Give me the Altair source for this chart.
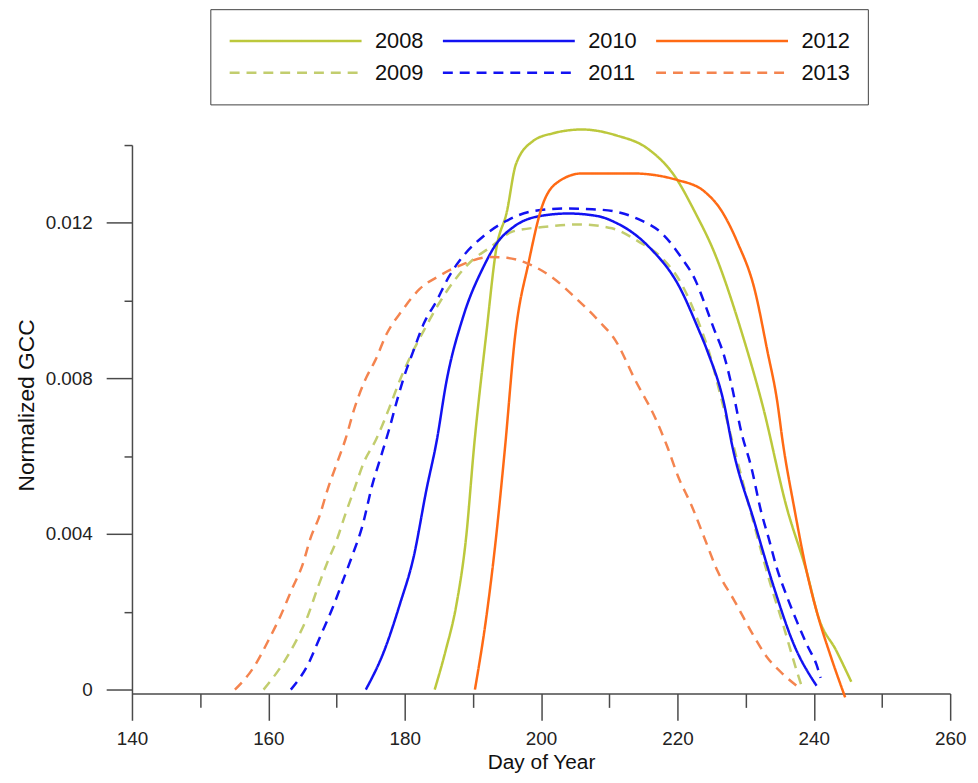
import altair as alt
import pandas as pd

# ---- data (Day of Year, Normalized GCC) ----
d2008 = [184.4, 186.0, 187.6, 189.0, 190.2, 192.0, 193.4, 195.0, 196.3, 198.8, 201.7, 206.0, 211.0,
         215.7, 219.6, 222.5, 225.5, 229.4, 232.5, 236.0, 239.0, 240.7, 243.3, 245.5]
v2008 = [0.0, 0.0010, 0.0022, 0.0039, 0.0063, 0.0092, 0.0113, 0.0123, 0.0135, 0.0141, 0.0143, 0.0144, 0.01425,
         0.0139, 0.0132, 0.0123, 0.0112, 0.0092, 0.0073, 0.0047, 0.0030, 0.00185, 0.0010, 0.0002]

d2009 = [159.3, 162.4, 164.3, 165.8, 167.2, 168.7, 170.1, 171.3, 172.6, 174.0, 175.8, 177.8, 179.3, 180.8,
         182.8, 185.0, 187.6, 190.1, 192.4, 195.9, 200.7, 205.5, 210.4, 214.2, 217.7, 220.6, 223.0, 224.6,
         226.7, 231.0, 234.0, 235.2, 237.5, 238.2]
v2009 = [0.0, 0.00074, 0.00133, 0.0019, 0.0026, 0.00329, 0.00388, 0.00451, 0.00515, 0.00584, 0.00643, 0.00727,
         0.00796, 0.00855, 0.00923, 0.00992, 0.01059, 0.01107, 0.01135, 0.01178, 0.0119, 0.01196, 0.01186,
         0.01153, 0.0111, 0.01043, 0.00949, 0.0087, 0.0073, 0.0044, 0.0025, 0.00184, 0.00048, 0.0001]

d2010 = [174.3, 177.0, 179.3, 181.3, 183.2, 184.7, 186.1, 188.6, 191.5, 193.4, 196.0, 199.7, 204.0, 208.4,
         211.0, 213.0, 216.0, 220.3, 223.0, 224.4, 226.9, 228.0, 231.3, 234.2, 237.1, 240.4]
v2010 = [0.0, 0.0010, 0.0022, 0.0034, 0.00515, 0.0064, 0.0079, 0.0096, 0.01085, 0.01145, 0.0119, 0.01217,
         0.01224, 0.01217, 0.0120, 0.0118, 0.01135, 0.01035, 0.0093, 0.0087, 0.0073, 0.0063, 0.0043, 0.0026,
         0.00115, 0.0001]

d2011 = [163.3, 165.8, 167.7, 169.4, 170.9, 172.3, 173.8, 175.2, 176.7, 177.7, 178.9, 179.9, 181.3, 182.8,
         184.7, 186.4, 188.6, 191.5, 194.8, 198.8, 203.6, 207.5, 210.6, 214.2, 217.9, 220.6, 222.7, 224.0,
         225.3, 226.9, 228.0, 229.4, 230.8, 232.3, 233.4, 234.6, 236.0, 237.5, 239.0, 240.4, 241.0]
v2011 = [0.0, 0.00064, 0.0014, 0.00209, 0.00278, 0.00344, 0.00421, 0.00523, 0.0061, 0.00668, 0.00745, 0.00804,
         0.00872, 0.00941, 0.0100, 0.01059, 0.01115, 0.01165, 0.01204, 0.0123, 0.01237, 0.01235, 0.0123,
         0.0121, 0.0117, 0.0111, 0.0105, 0.00992, 0.0093, 0.00855, 0.00778, 0.0066, 0.00574, 0.00456,
         0.00388, 0.00311, 0.00242, 0.00176, 0.00115, 0.00064, 0.0003]

d2012 = [190.3, 192.0, 193.2, 194.7, 196.2, 198.2, 200.2, 202.1, 206.0, 213.4, 220.0, 224.0, 226.5, 228.8,
         231.3, 233.2, 234.6, 235.5, 237.1, 239.0, 240.7, 242.4, 244.6]
v2012 = [0.0, 0.0019, 0.0036, 0.0062, 0.0091, 0.0110, 0.01245, 0.0130, 0.01327, 0.01327, 0.0131, 0.0128,
         0.0123, 0.0115, 0.0103, 0.0087, 0.00745, 0.0063, 0.0047, 0.0030, 0.00184, 0.0009, -0.0002]

d2013 = [155.1, 157.8, 160.2, 161.8, 163.5, 165.0, 166.2, 167.5, 168.7, 170.1, 171.3, 172.7, 174.2, 175.7,
         177.4, 179.6, 182.2, 185.1, 188.6, 192.4, 195.0, 197.8, 201.7, 205.0, 208.4, 210.9, 213.8, 216.7,
         218.5, 220.1, 222.1, 224.0, 225.9, 228.4, 230.8, 233.2, 235.6, 238.2]
v2013 = [0.0, 0.00056, 0.00133, 0.0019, 0.0026, 0.0032, 0.0039, 0.00446, 0.00515, 0.00584, 0.00643, 0.00727,
         0.00796, 0.00847, 0.00916, 0.00974, 0.0103, 0.01064, 0.01094, 0.01112, 0.0111, 0.01097, 0.01059,
         0.01008, 0.00949, 0.00898, 0.00796, 0.0070, 0.00625, 0.00548, 0.00472, 0.00388, 0.00304, 0.00227,
         0.0015, 0.00082, 0.00038, 0.0]

years = ["2008", "2009", "2010", "2011", "2012", "2013"]
series = [(d2008, v2008), (d2009, v2009), (d2010, v2010), (d2011, v2011), (d2012, v2012), (d2013, v2013)]

line_colors = ["#bcc83c", "#c2cd6e", "#1212f2", "#1212f2", "#ff6a14", "#f4844f"]
line_dashes = [[1, 0], [10, 7], [1, 0], [10, 7], [1, 0], [10, 7]]

x_major = [140, 160, 180, 200, 220, 240, 260]
x_minor = [150, 170, 190, 210, 230, 250]
y_major = [0, 0.004, 0.008, 0.012]
y_minor = [0.002, 0.006, 0.010, 0.014]

rows = []
for yr, (ds, vs) in zip(years, series):
    for i, (d, v) in enumerate(zip(ds, vs)):
        rows.append({"year": yr, "day": d, "gcc": v, "order": i})
df = pd.DataFrame(rows)

FONT = "Liberation Sans"
AXC = "#4a4a4a"
XDOM = [140, 260]
YDOM = [-0.0001, 0.014]

legend = alt.Legend(title=None, orient="none", legendX=79, legendY=-137,
                    columns=3, symbolType="stroke", symbolSize=17689,
                    symbolStrokeWidth=2.5, clipHeight=28, rowPadding=4,
                    columnPadding=18, labelOffset=12, padding=18,
                    strokeColor="#404040", labelFontSize=22, labelFont=FONT,
                    labelColor="#111111")

lines = alt.Chart(df).mark_line(strokeWidth=2.5, interpolate="monotone", clip=False).encode(
    x=alt.X("day:Q",
            scale=alt.Scale(domain=XDOM, nice=False, zero=False),
            axis=alt.Axis(title="Day of Year", orient="bottom", values=x_major, tickSize=27,
                          labelFlush=False, labelPadding=9, titlePadding=4, titleFontSize=21,
                          grid=False)),
    y=alt.Y("gcc:Q",
            scale=alt.Scale(domain=YDOM, nice=False, zero=False),
            axis=alt.Axis(title="Normalized GCC", orient="left", values=y_major, tickSize=26,
                          labelExpr="datum.value === 0 ? '0' : format(datum.value, '.3f')",
                          labelFlush=False, labelPadding=14, titlePadding=7, titleY=262,
                          grid=False)),
    color=alt.Color("year:N", scale=alt.Scale(domain=years, range=line_colors), legend=legend),
    strokeDash=alt.StrokeDash("year:N", scale=alt.Scale(domain=years, range=line_dashes), legend=legend),
    detail="year:N",
    order="order:Q",
)

minor = alt.Chart(df).mark_point(opacity=0).encode(
    x=alt.X("day:Q",
            scale=alt.Scale(domain=XDOM, nice=False, zero=False),
            axis=alt.Axis(title=None, orient="bottom", values=x_minor, tickSize=14,
                          labels=False, domain=False, grid=False)),
    y=alt.Y("gcc:Q",
            scale=alt.Scale(domain=YDOM, nice=False, zero=False),
            axis=alt.Axis(title=None, orient="left", values=y_minor, tickSize=8,
                          labels=False, domain=False, grid=False)),
)

chart = alt.layer(minor, lines).resolve_scale(x="independent", y="independent").properties(
    width=825, height=553,
    autosize=alt.AutoSizeParams(type="none"),
    padding={"left": 125, "top": 135, "right": 20, "bottom": 79},
).configure_view(stroke=None).configure_axis(
    domainColor=AXC, tickColor=AXC, domainWidth=1.5, tickWidth=1.5,
    labelFont=FONT, titleFont=FONT, labelFontSize=19, titleFontSize=23,
    labelColor="#222222", titleColor="#111111", titleFontWeight="normal",
)

chart.save("out.html", embed_options={"renderer": "svg", "actions": False})
